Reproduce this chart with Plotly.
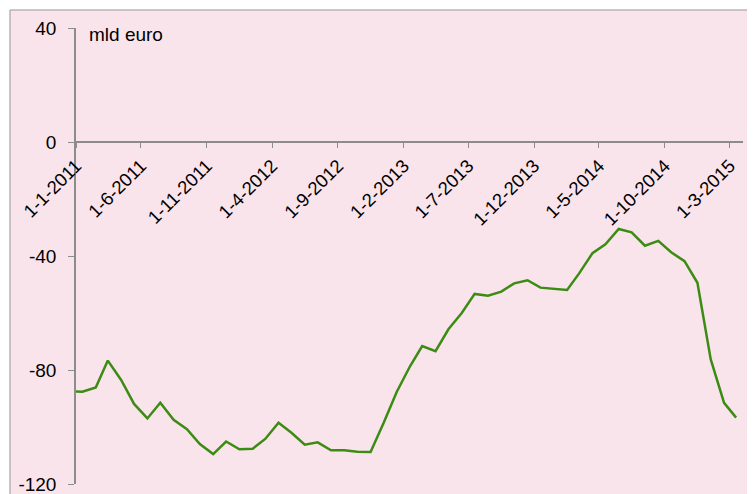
import plotly.graph_objects as go

# Data: monthly values (mld euro)
dates = ["2011-01-01"] + [f"{y}-{m:02d}-16" for y in range(2011, 2016) for m in range(1, 13)
                          if (y, m) <= (2015, 3)]
values = [-87.5,
          -87.6, -86.1, -76.7, -83.5, -91.9, -97.0, -91.5, -97.5, -100.8, -106.0, -109.5, -105.1,
          -107.8, -107.6, -104.2, -98.5, -102.0, -106.2, -105.4, -108.2, -108.2, -108.7, -108.8, -98.7,
          -87.6, -78.6, -71.6, -73.4, -65.7, -60.0, -53.3, -53.9, -52.5, -49.6, -48.5, -51.1,
          -51.6, -51.9, -46.1, -39.0, -35.9, -30.5, -31.7, -36.4, -34.7, -38.7, -41.8, -49.4,
          -76.3, -91.5, -96.7]

y_ticks = [-120, -80, -40, 0, 40]
y_tick_text = ["-120", "-80", "-40", "0", "40"]
unit_label = "mld euro"

PINK = "#FAE4EC"
GREEN = "#3C8C14"
GRAY = "#8C8C8C"
FONT = "Arial, Liberation Sans, sans-serif"

# the page body adds an 8px offset; figure coordinates = page coordinates - 8
W, H = 747, 486
L, T = 68, 20
pw, ph = 666.7, 456
R, B = W - L - pw, H - T - ph

fig = go.Figure()
fig.add_trace(go.Scatter(x=dates, y=values, mode="lines",
                         line=dict(color=GREEN, width=2.5), hoverinfo="skip"))

fig.add_shape(type="rect", xref="paper", yref="paper",
              x0=(2 - L) / pw, x1=(W + 20 - L) / pw,
              y0=-(B + 20) / ph, y1=(T - 2) / ph + 1,
              fillcolor=PINK, line=dict(color="#959595", width=1), layer="below")

fig.add_annotation(text=unit_label, xref="paper", yref="paper",
                   x=(79 - L) / pw, y=1 - (27 - T) / ph, xanchor="left", yanchor="middle",
                   showarrow=False, font=dict(family=FONT, size=19, color="#000000"))

fig.update_layout(
    width=W, height=H,
    margin=dict(l=L, r=R, t=T, b=B, autoexpand=False),
    paper_bgcolor="white", plot_bgcolor="rgba(0,0,0,0)",
    showlegend=False,
    font=dict(family=FONT, size=18, color="#000000"),
    xaxis=dict(type="date", range=["2011-01-01", "2015-04-01"],
               tick0="2011-01-01", dtick="M5", tickformat="%-d-%-m-%Y",
               tickangle=-45, ticks="outside", ticklen=5, tickcolor=GRAY,
               showline=True, linecolor=GRAY, linewidth=1.5,
               showgrid=False, zeroline=False, automargin=False,
               anchor="free", position=0.75,
               tickfont=dict(family=FONT, size=18.5, color="#000000")),
    yaxis=dict(range=[-120, 40], tickvals=y_ticks, ticktext=y_tick_text,
               ticks="outside", ticklen=6,
               tickcolor=GRAY, showline=True, linecolor=GRAY, linewidth=1.5,
               showgrid=False, zeroline=False, automargin=False,
               ticklabelstandoff=8, ticklabeloverflow="allow",
               tickfont=dict(family=FONT, size=19, color="#000000")),
)

fig.write_html("out.html")
